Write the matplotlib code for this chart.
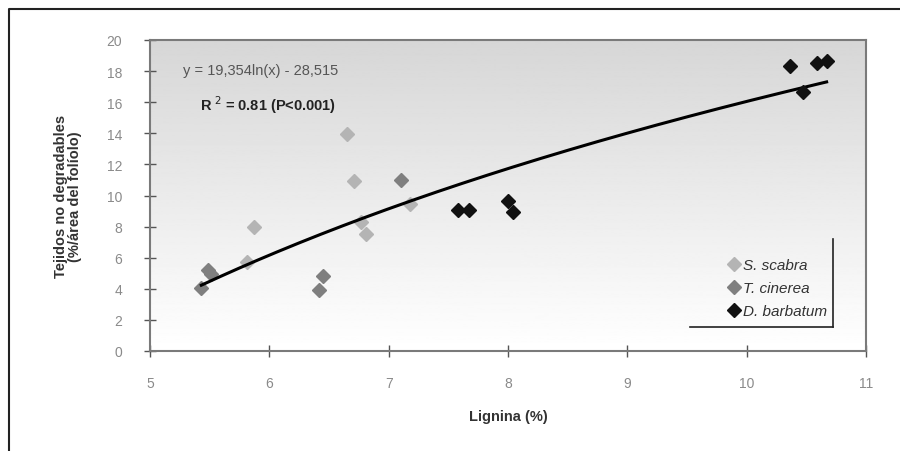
import matplotlib.pyplot as plt
import matplotlib.lines as mlines
import numpy as np

plt.rcParams['font.family'] = ['Liberation Sans Narrow', 'Liberation Sans', 'DejaVu Sans']

# Data
scabra_x = [6.65, 6.71, 5.87, 6.81, 6.77, 7.18, 5.81]
scabra_y = [13.95, 10.95, 7.95, 7.5, 8.3, 9.45, 5.7]

cinerea_x = [7.10, 5.49, 5.51, 5.43, 6.45, 6.42]
cinerea_y = [11.0, 5.2, 4.95, 4.05, 4.85, 3.95]

barbatum_x = [7.58, 7.67, 8.00, 8.04, 10.36, 10.59, 10.67, 10.47]
barbatum_y = [9.07, 9.07, 9.67, 8.92, 18.35, 18.52, 18.67, 16.64]

# Logarithmic trend line from the chart equation
coef_a = 19.354
coef_b = -28.515
eq_text = "y = 19,354ln(x) - 28,515"
r2_text = "R$^{\\ 2}$ = 0.81 (P<0.001)"

fig = plt.figure(figsize=(9, 4.52), dpi=100)
ax = fig.add_axes([150 / 900, 100 / 452, 716 / 900, 311 / 452])

# gradient background in the plot area (grey at top, white at bottom)
grad = np.linspace(0.84, 1.0, 256).reshape(-1, 1)
ax.imshow(grad, cmap='gray', vmin=0, vmax=1, aspect='auto', origin='upper',
          extent=[0, 1, 0, 1], transform=ax.transAxes, zorder=0)

all_x = scabra_x + cinerea_x + barbatum_x
xs = np.linspace(min(all_x), max(all_x), 200)
ax.plot(xs, coef_a * np.log(xs) + coef_b, color='black', lw=2.2, zorder=3)

ax.plot(scabra_x, scabra_y, 'D', color='#b4b4b4', ms=7.5, ls='none', label='S. scabra', zorder=2)
ax.plot(cinerea_x, cinerea_y, 'D', color='#7f7f7f', ms=7.5, ls='none', label='T. cinerea', zorder=2)
ax.plot(barbatum_x, barbatum_y, 'D', color='#111111', ms=7.5, ls='none', label='D. barbatum', zorder=4)

ax.set_xlim(5, 11)
ax.set_ylim(0, 20)
ax.set_xticks(range(5, 12))
ax.set_yticks(range(0, 21, 2))

for s in ax.spines.values():
    s.set_color('#7a7a7a')
    s.set_linewidth(1.5)
ax.tick_params(direction='inout', length=8, width=1, color='#555555',
               labelcolor='#8a8a8a', labelsize=10)
ax.tick_params(axis='y', pad=16)
ax.tick_params(axis='x', pad=14)

ax.set_xlabel('Lignina (%)', fontsize=10.5, fontweight='bold', color='#333333', labelpad=14)
ax.set_ylabel('Tejidos no degradables\n(%/área del folíolo)', fontsize=10.5,
              fontweight='bold', color='#333333', labelpad=18, linespacing=1.0)

ax.text(0.046, 0.905, eq_text, transform=ax.transAxes, fontsize=10.5,
        color='#555555', va='center', ha='left')
ax.text(0.07, 0.795, r2_text, transform=ax.transAxes, fontsize=10.5,
        color='#222222', fontweight='bold', va='center', ha='left')

leg = ax.legend(loc='lower right', bbox_to_anchor=(0.954, 0.085), frameon=False,
                handletextpad=0.1, handlelength=1.0, borderaxespad=0,
                labelspacing=0.6, prop={'style': 'italic', 'size': 11})
for t in leg.get_texts():
    t.set_color('#333333')

# legend shadow lines (right and bottom)
ax.add_line(mlines.Line2D([0.954, 0.954], [0.077, 0.36], transform=ax.transAxes,
                          color='#222222', lw=1.2, zorder=5))
ax.add_line(mlines.Line2D([0.754, 0.954], [0.077, 0.077], transform=ax.transAxes,
                          color='#222222', lw=1.2, zorder=5))

# outer frame of the picture
fig.add_artist(mlines.Line2D([9 / 900, 9 / 900, 1.0], [0.0, 1 - 10 / 452, 1 - 10 / 452],
                             transform=fig.transFigure, color='#222222', lw=1.5))

fig.savefig('out.png', dpi=100)
